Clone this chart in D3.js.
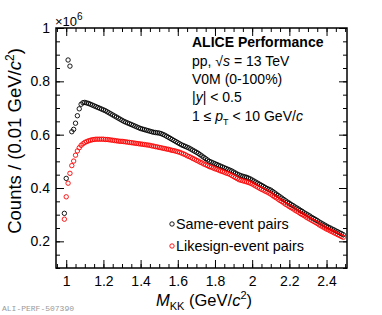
<!DOCTYPE html>
<html lang="en">

<head>
    <meta charset="UTF-8">
    <title>KK invariant mass</title>
    <style>
        body {
            margin: 0;
            padding: 0;
            background: #fff;
        }

        svg {
            display: block;
            font-family: "Liberation Sans", Arial, sans-serif;
        }

        .tick-label {
            font-size: 14px;
            fill: #000;
        }

        .info {
            font-size: 14px;
            fill: #000;
        }
    </style>
</head>

<body>

    <svg width="382" height="315"></svg>

    <script src="https://d3js.org/d3.v7.min.js"></script>
    <script>
        // bin centres of the 0.01 GeV/c^2 bins, 0.99 ... 2.49
        const massBins = d3.range(151).map(i => +(0.99 + i * 0.01).toFixed(2));

        // Same-event pairs (x10^6 counts)
        const sameEvent = [
            0.305, 0.436, 0.880, 0.857, 0.611, 0.620, 0.643, 0.671, 0.697, 0.714,
            0.720, 0.721, 0.719, 0.717, 0.714, 0.711, 0.708, 0.705, 0.702, 0.699,
            0.696, 0.693, 0.690, 0.686, 0.682, 0.678, 0.674, 0.670, 0.666, 0.662,
            0.658, 0.654, 0.650, 0.647, 0.644, 0.641, 0.638, 0.635, 0.632, 0.629,
            0.626, 0.623, 0.621, 0.619, 0.617, 0.615, 0.613, 0.611, 0.609, 0.608,
            0.607, 0.606, 0.604, 0.601, 0.598, 0.594, 0.590, 0.586, 0.582, 0.578,
            0.574, 0.570, 0.566, 0.562, 0.559, 0.556, 0.553, 0.550, 0.546, 0.542,
            0.538, 0.534, 0.530, 0.525, 0.520, 0.515, 0.510, 0.505, 0.500, 0.497,
            0.494, 0.491, 0.488, 0.485, 0.482, 0.479, 0.476, 0.473, 0.470, 0.467,
            0.464, 0.460, 0.456, 0.452, 0.449, 0.446, 0.444, 0.442, 0.440, 0.437,
            0.434, 0.430, 0.426, 0.422, 0.418, 0.414, 0.410, 0.406, 0.402, 0.398,
            0.395, 0.392, 0.387, 0.382, 0.377, 0.372, 0.367, 0.362, 0.357, 0.352,
            0.347, 0.343, 0.338, 0.334, 0.329, 0.325, 0.321, 0.316, 0.312, 0.307,
            0.303, 0.299, 0.295, 0.290, 0.286, 0.282, 0.278, 0.273, 0.269, 0.265,
            0.261, 0.257, 0.253, 0.250, 0.246, 0.243, 0.239, 0.236, 0.232, 0.229,
            0.225
        ];

        // Likesign-event pairs (x10^6 counts)
        const likeSign = [
            0.283, 0.367, 0.418, 0.455, 0.484, 0.501, 0.523, 0.539, 0.551, 0.560,
            0.566, 0.571, 0.574, 0.577, 0.579, 0.581, 0.582, 0.583, 0.583, 0.583,
            0.583, 0.583, 0.582, 0.582, 0.581, 0.580, 0.579, 0.578, 0.577, 0.576,
            0.575, 0.575, 0.574, 0.573, 0.572, 0.571, 0.570, 0.569, 0.568, 0.567,
            0.566, 0.565, 0.564, 0.563, 0.562, 0.561, 0.560, 0.558, 0.557, 0.555,
            0.554, 0.552, 0.551, 0.549, 0.548, 0.546, 0.545, 0.543, 0.541, 0.540,
            0.538, 0.536, 0.534, 0.531, 0.528, 0.525, 0.521, 0.518, 0.515, 0.511,
            0.508, 0.504, 0.501, 0.497, 0.494, 0.490, 0.487, 0.484, 0.480, 0.478,
            0.475, 0.472, 0.470, 0.467, 0.464, 0.462, 0.459, 0.456, 0.454, 0.451,
            0.447, 0.443, 0.439, 0.435, 0.431, 0.429, 0.427, 0.425, 0.423, 0.421,
            0.418, 0.415, 0.411, 0.407, 0.403, 0.399, 0.395, 0.392, 0.388, 0.385,
            0.381, 0.377, 0.372, 0.367, 0.363, 0.358, 0.353, 0.349, 0.344, 0.339,
            0.335, 0.330, 0.326, 0.322, 0.317, 0.313, 0.309, 0.304, 0.300, 0.296,
            0.291, 0.287, 0.283, 0.279, 0.275, 0.271, 0.267, 0.262, 0.258, 0.254,
            0.250, 0.246, 0.243, 0.239, 0.236, 0.232, 0.229, 0.225, 0.222, 0.218,
            0.215
        ];

        const xMajorTicks = [1, 1.2, 1.4, 1.6, 1.8, 2, 2.2, 2.4];
        const yMajorTicks = [0.2, 0.4, 0.6, 0.8, 1];
        const legendLabels = ["Same-event pairs", "Likesign-event pairs"];
        const seriesColors = ["#000000", "#ff0000"];

        const svg = d3.select("svg");

        // frame of the plot area
        const plotLeft = 56, plotRight = 347, plotTop = 28, plotBottom = 268;

        const x = d3.scaleLinear().domain([0.945, 2.51]).range([plotLeft, plotRight]);
        const y = d3.scaleLinear().domain([0.1, 1]).range([plotBottom, plotTop]);

        const xMinor = d3.range(0.95, 2.51, 0.05).map(v => +v.toFixed(2));
        const yMinor = d3.range(0.1, 1.001, 0.05).map(v => +v.toFixed(2));

        // Axes, ticks drawn inwards on all four sides
        const fmt = d => d3.format("")(d);

        svg.append("g")
            .attr("transform", `translate(0,${plotBottom})`)
            .call(d3.axisBottom(x).tickValues(xMinor).tickSize(-4).tickFormat(""));
        svg.append("g")
            .attr("transform", `translate(0,${plotBottom})`)
            .call(d3.axisBottom(x).tickValues(xMajorTicks).tickSize(-8).tickPadding(8).tickFormat(fmt));
        svg.append("g")
            .attr("transform", `translate(0,${plotTop})`)
            .call(d3.axisTop(x).tickValues(xMinor).tickSize(-4).tickFormat(""));
        svg.append("g")
            .attr("transform", `translate(0,${plotTop})`)
            .call(d3.axisTop(x).tickValues(xMajorTicks).tickSize(-8).tickFormat(""));

        svg.append("g")
            .attr("transform", `translate(${plotLeft},0)`)
            .call(d3.axisLeft(y).tickValues(yMinor).tickSize(-4).tickFormat(""));
        svg.append("g")
            .attr("transform", `translate(${plotLeft},0)`)
            .call(d3.axisLeft(y).tickValues(yMajorTicks).tickSize(-8).tickPadding(6).tickFormat(fmt));
        svg.append("g")
            .attr("transform", `translate(${plotRight},0)`)
            .call(d3.axisRight(y).tickValues(yMinor).tickSize(-4).tickFormat(""));
        svg.append("g")
            .attr("transform", `translate(${plotRight},0)`)
            .call(d3.axisRight(y).tickValues(yMajorTicks).tickSize(-8).tickFormat(""));

        svg.selectAll(".domain").remove();
        svg.selectAll(".tick line").attr("stroke", "#000").attr("stroke-width", 1);
        svg.selectAll(".tick text")
            .attr("class", "tick-label")
            .style("font-family", "'Liberation Sans', Arial, sans-serif")
            .style("font-size", "14px");

        svg.append("rect")
            .attr("x", plotLeft)
            .attr("y", plotTop)
            .attr("width", plotRight - plotLeft)
            .attr("height", plotBottom - plotTop)
            .attr("fill", "none")
            .attr("stroke", "#000")
            .attr("stroke-width", 1.5);

        // exponent label
        const expo = svg.append("text")
            .attr("x", 55)
            .attr("y", 26)
            .style("font-size", "13px");
        expo.append("tspan").text("\u00d710");
        expo.append("tspan").attr("dy", -6).style("font-size", "10px").text("6");

        // data points
        const series = [sameEvent, likeSign];
        series.forEach((vals, s) => {
            svg.append("g")
                .selectAll("circle")
                .data(vals)
                .enter()
                .append("circle")
                .attr("cx", (d, i) => x(massBins[i]))
                .attr("cy", d => y(d))
                .attr("r", 2.2)
                .attr("fill", "none")
                .attr("stroke", seriesColors[s])
                .attr("stroke-width", 0.9);
        });

        // legend
        legendLabels.forEach((label, i) => {
            const ly = 224 + i * 22;
            svg.append("circle")
                .attr("cx", 172)
                .attr("cy", ly)
                .attr("r", 2.2)
                .attr("fill", "none")
                .attr("stroke", seriesColors[i])
                .attr("stroke-width", 0.9);
            svg.append("text")
                .attr("class", "info")
                .attr("x", 176)
                .attr("y", ly + 5)
                .style("font-size", "14.4px")
                .text(label);
        });

        // info block
        const infoX = 192;
        svg.append("text")
            .attr("class", "info")
            .attr("x", infoX)
            .attr("y", 47)
            .style("font-weight", "bold")
            .text("ALICE Performance");

        const l1 = svg.append("text").attr("class", "info").attr("x", infoX).attr("y", 66);
        l1.append("tspan").text("pp, \u221a");
        l1.append("tspan").style("font-style", "italic").text("s");
        l1.append("tspan").text(" = 13 TeV");

        svg.append("text").attr("class", "info").attr("x", infoX).attr("y", 84)
            .text("V0M (0-100%)");

        const l3 = svg.append("text").attr("class", "info").attr("x", infoX).attr("y", 102);
        l3.append("tspan").text("|");
        l3.append("tspan").style("font-style", "italic").text("y");
        l3.append("tspan").text("| < 0.5");

        const l4 = svg.append("text").attr("class", "info").attr("x", infoX).attr("y", 121);
        l4.append("tspan").text("1 \u2264 ");
        l4.append("tspan").style("font-style", "italic").text("p");
        l4.append("tspan").attr("dy", 4).style("font-size", "9px").text("T");
        l4.append("tspan").attr("dy", -4).text(" < 10 GeV/");
        l4.append("tspan").style("font-style", "italic").text("c");

        // axis titles
        const xt = svg.append("text")
            .attr("x", 252)
            .attr("y", 306)
            .attr("text-anchor", "end")
            .style("font-size", "16.5px");
        xt.append("tspan").style("font-style", "italic").text("M");
        xt.append("tspan").attr("dy", 4).style("font-size", "11px").text("KK");
        xt.append("tspan").attr("dy", -4).text(" (GeV/");
        xt.append("tspan").style("font-style", "italic").text("c");
        xt.append("tspan").attr("dy", -7).style("font-size", "11px").text("2");
        xt.append("tspan").attr("dy", 7).text(")");

        const yt = svg.append("text")
            .attr("transform", "translate(21,141) rotate(-90)")
            .attr("text-anchor", "middle")
            .style("font-size", "18.5px");
        yt.append("tspan").text("Counts / (0.01 GeV/");
        yt.append("tspan").style("font-style", "italic").text("c");
        yt.append("tspan").attr("dy", -7).style("font-size", "12px").text("2");
        yt.append("tspan").attr("dy", 7).text(")");

        // watermark
        svg.append("text")
            .attr("x", 2)
            .attr("y", 311)
            .style("font-family", "'Liberation Mono', monospace")
            .style("font-size", "8px")
            .attr("fill", "#999")
            .text("ALI-PERF-507390");
    </script>

</body>

</html>
